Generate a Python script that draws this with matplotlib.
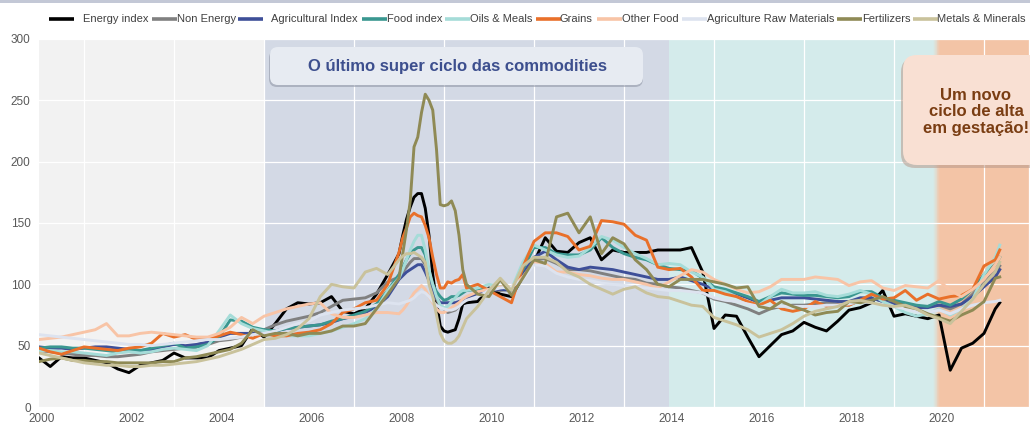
import numpy as np
import matplotlib
matplotlib.use("Agg")
import matplotlib.pyplot as plt
from matplotlib.patches import FancyBboxPatch, Rectangle
from matplotlib.lines import Line2D
from matplotlib.transforms import ScaledTranslation
from matplotlib.colors import to_rgb

plt.rcParams['font.family'] = ['Liberation Sans', 'DejaVu Sans']

# ---------------- data (World Bank commodity price indices, 2010 = 100) ----------------
# time axis: quarterly 2000-2007, monthly Jan 2008 - Jul 2009, quarterly afterwards
dates = np.concatenate([
    2000 + np.arange(32) / 4,
    2008 + np.arange(19) / 12,
    2009.75 + np.arange(47) / 4,
    [2021.35],
])

energy = [40, 33, 41, 40, 40, 38, 36, 31, 28, 34, 36, 38, 44, 40, 40, 40,
          46, 48, 50, 64, 57, 68, 80, 85, 84, 85, 90, 78, 76, 80, 92, 108,
          125, 140, 153, 163, 171, 174, 174, 162, 140, 108, 86, 66,
          62, 61, 62, 63, 72, 84, 85,
          86,
          97, 92, 90, 106, 118, 138, 127, 126, 134, 138, 120, 128,
          126, 126, 126, 128, 128, 128, 130, 110, 64, 75, 74, 57,
          41, 50, 59, 62, 69, 65, 62, 70, 79, 81, 85, 95,
          74, 76, 74, 72, 75, 30, 48, 52, 60, 80,
          85]

non_energy = [46, 45, 44, 43, 42, 42, 41, 41, 42, 43, 45, 46, 47, 48, 49, 51,
              54, 55, 57, 59, 63, 67, 70, 72, 74, 77, 82, 87, 88, 89, 93, 102,
              106, 110, 114, 118, 121, 121, 121, 116, 108, 97, 88, 82,
              80, 77, 78, 79, 82, 86, 88,
              92,
              96, 95, 96, 110, 120, 121, 117, 112, 112, 111, 109, 107,
              105, 104, 101, 100, 98, 97, 95, 93, 88, 86, 83, 80,
              76, 80, 82, 83, 83, 84, 85, 84, 83, 87, 89, 86,
              85, 83, 82, 82, 83, 80, 84, 92, 102, 110,
              115]

agricultural = [49, 48, 48, 47, 48, 49, 49, 48, 47, 46, 47, 49, 51, 50, 51, 53,
                57, 60, 60, 60, 60, 62, 64, 65, 66, 67, 69, 72, 74, 77, 82, 90,
                104, 107, 110, 112, 114, 116, 116, 110, 103, 94, 89, 85,
                85, 85, 85, 85, 86, 87, 88,
                93,
                95, 96, 95, 108, 122, 127, 120, 114, 112, 114, 113, 112,
                110, 108, 106, 104, 104, 106, 103, 100, 96, 94, 92, 89,
                85, 87, 89, 89, 89, 88, 87, 86, 86, 89, 89, 86,
                84, 82, 81, 81, 83, 82, 84, 90, 98, 106,
                112]

food = [48, 49, 49, 48, 48, 47, 46, 45, 47, 46, 48, 50, 52, 48, 49, 51,
        57, 71, 70, 65, 63, 62, 64, 65, 66, 67, 70, 72, 75, 78, 84, 95,
        108, 114, 120, 125, 128, 130, 130, 124, 110, 100, 94, 90,
        87, 88, 90, 90, 91, 93, 95,
        96,
        96, 98, 96, 112, 130, 130, 125, 124, 124, 128, 138, 130,
        125, 122, 120, 116, 113, 112, 111, 105, 98, 96, 93, 90,
        86, 90, 93, 92, 91, 91, 90, 89, 90, 94, 94, 89,
        87, 85, 83, 82, 86, 83, 88, 96, 108, 116,
        122]

oils_meals = [46, 46, 45, 45, 44, 43, 42, 44, 45, 44, 45, 47, 48, 47, 46, 50,
              62, 75, 68, 64, 62, 60, 58, 58, 58, 60, 62, 65, 68, 72, 80, 95,
              105, 112, 120, 128, 135, 140, 140, 128, 112, 100, 90, 83,
              81, 82, 86, 89, 93, 95, 95,
              97,
              100, 98, 96, 118, 132, 128, 124, 122, 123, 130, 139, 136,
              130, 125, 121, 116, 117, 116, 110, 106, 96, 94, 90, 86,
              83, 90, 96, 93, 93, 94, 91, 90, 92, 95, 92, 86,
              82, 77, 74, 76, 80, 75, 80, 88, 108, 122,
              132]

grains = [48, 45, 43, 46, 49, 48, 47, 46, 48, 49, 52, 60, 57, 59, 55, 55,
          58, 61, 59, 56, 60, 58, 58, 60, 61, 63, 68, 77, 80, 85, 87, 100,
          126, 138, 146, 155, 158, 156, 155, 148, 138, 122, 108, 97,
          97, 102, 101, 103, 104, 108, 97,
          100,
          95, 90, 85, 114, 135, 142, 142, 139, 128, 131, 152, 151,
          149, 140, 136, 114, 112, 113, 106, 95, 95, 92, 90, 86,
          83, 87, 80, 78, 80, 86, 82, 83, 83, 87, 92, 88,
          89, 95, 87, 92, 88, 90, 91, 96, 115, 120,
          128]

other_food = [55, 56, 57, 59, 61, 63, 68, 58, 58, 60, 61, 60, 59, 58, 57, 57,
              60, 65, 73, 68, 74, 77, 80, 82, 84, 85, 76, 73, 73, 75, 77, 77,
              76, 79, 83, 88, 93, 96, 99, 96, 90, 85, 80, 77,
              77, 79, 81, 83, 85, 88, 90,
              94,
              96, 98, 98, 106, 118, 117, 110, 110, 108, 107, 105, 104,
              104, 102, 100, 97, 102, 107, 112, 110, 104, 100, 96, 93,
              94, 98, 104, 104, 104, 106, 105, 104, 99, 102, 103, 97,
              95, 99, 98, 97, 103, 95, 90, 96, 104, 116,
              122]

agri_raw = [59, 58, 57, 56, 55, 54, 53, 52, 51, 51, 50, 51, 52, 53, 54, 55,
            55, 56, 57, 59, 60, 62, 65, 68, 70, 75, 77, 79, 80, 81, 83, 85,
            84, 85, 86, 87, 89, 92, 94, 93, 90, 86, 83, 81,
            80, 79, 79, 80, 82, 85, 87,
            90,
            95, 97, 98, 104, 116, 115, 109, 106, 104, 103, 101, 100,
            99, 98, 97, 96, 95, 95, 94, 93, 89, 87, 86, 84,
            82, 82, 82, 82, 82, 82, 83, 83, 84, 86, 85, 83,
            82, 80, 78, 77, 79, 76, 80, 83, 85, 86,
            87]

fertilizers = [37, 39, 40, 38, 38, 37, 37, 36, 36, 36, 36, 37, 37, 40, 41, 43,
               45, 47, 52, 63, 58, 60, 60, 58, 60, 60, 62, 66, 66, 68, 80, 92,
               105, 125, 145, 168, 212, 220, 240, 255, 250, 242, 210, 165,
               164, 165, 168, 160, 140, 112, 100,
               92,
               90, 104, 91, 105, 120, 117, 155, 158, 142, 155, 125, 138,
               133, 120, 112, 100, 98, 104, 104, 104, 102, 100, 97, 98,
               82, 80, 86, 82, 79, 75, 77, 78, 86, 85, 87, 90,
               86, 82, 80, 76, 73, 70, 75, 79, 86, 105,
               106]

metals = [44, 42, 40, 38, 36, 35, 34, 34, 33, 33, 34, 34, 35, 36, 37, 39,
          41, 44, 47, 51, 55, 56, 59, 64, 72, 90, 100, 98, 97, 110, 113, 108,
          120, 123, 125, 125, 126, 124, 122, 118, 100, 90, 75, 60,
          54, 52, 52, 54, 58, 65, 72,
          82,
          95, 105, 95, 115, 122, 122, 118, 110, 106, 100, 96, 92,
          96, 98, 93, 90, 89, 86, 83, 82, 73, 70, 67, 63,
          57, 60, 63, 68, 74, 78, 80, 82, 86, 87, 85, 83,
          82, 83, 80, 75, 72, 68, 78, 88, 100, 110,
          118]

series_names = ["Energy index", "Non Energy", "Agricultural Index", "Food index",
                "Oils & Meals", "Grains", "Other Food", "Agriculture Raw Materials",
                "Fertilizers", "Metals & Minerals"]
series_values = [energy, non_energy, agricultural, food, oils_meals, grains,
                 other_food, agri_raw, fertilizers, metals]
series_colors = ["#000000", "#808080", "#3e4f98", "#3a9790", "#a5dcd8", "#e9702a",
                 "#f8c4a6", "#dde3ef", "#8f8a55", "#c9c29b"]

title_left = "O último super ciclo das commodities"
title_right = "Um novo\nciclo de alta\nem gestação!"
x_ticks = [2000, 2002, 2004, 2006, 2008, 2010, 2012, 2014, 2016, 2018, 2020]
y_ticks = [0, 50, 100, 150, 200, 250, 300]

# ---------------- figure ----------------
W, H = 1030, 426
fig = plt.figure(figsize=(W / 100, H / 100), dpi=100)
fig.patch.set_facecolor("white")
ax = fig.add_axes([39 / W, 19 / H, 990 / W, 368 / H])
ax.set_xlim(2000, 2022)
ax.set_ylim(0, 300)
ax.set_facecolor("white")

# background periods
ax.axvspan(2000, 2005, color="#f2f2f2", zorder=0.1, lw=0)
ax.axvspan(2005, 2014, color="#d3d9e5", zorder=0.1, lw=0)
ax.axvspan(2014, 2019.86, color="#d4ebeb", zorder=0.1, lw=0)
ax.axvspan(2020.03, 2022, color="#f3c4a6", zorder=0.1, lw=0)
c0, c1 = np.array(to_rgb("#d4ebeb")), np.array(to_rgb("#f3c4a6"))
edges = np.linspace(2019.86, 2020.03, 9)
for i in range(8):
    f = (i + 0.5) / 8
    ax.axvspan(edges[i], edges[i + 1], color=tuple(c0 * (1 - f) + c1 * f), zorder=0.1, lw=0)

# grid
ax.set_xticks(np.arange(2000, 2023, 1), minor=True)
ax.grid(True, which="minor", axis="x", color="white", lw=0.9)
ax.grid(True, which="major", axis="y", color="white", lw=0.9)
ax.set_axisbelow(True)
for s in ax.spines.values():
    s.set_visible(False)

for name, vals, col in zip(series_names, series_values, series_colors):
    ax.plot(dates, vals, color=col, lw=2.1, solid_joinstyle="round", zorder=3, label=name)

ax.set_xticks(x_ticks)
ax.set_xticklabels([str(t) for t in x_ticks])
ax.set_yticks(y_ticks)
ax.set_yticklabels([str(t) for t in y_ticks])
ax.tick_params(axis="both", which="both", length=0, labelsize=8.5, colors="#595959")
ax.tick_params(axis="x", pad=4.5)
ax.tick_params(axis="y", pad=6)
for lab in ax.get_xticklabels():
    lab.set_transform(lab.get_transform() + ScaledTranslation(3 / 100, 0, fig.dpi_scale_trans))

# ---------------- overlay in pixel coordinates ----------------
ov = fig.add_axes([0, 0, 1, 1], zorder=10)
ov.set_xlim(0, W)
ov.set_ylim(H, 0)
ov.axis("off")

ov.add_patch(Rectangle((0, 0), W, 2.5, color="#c3c8d6", lw=0))

# manual legend
handle_x = [49, 152, 238, 362, 445, 536, 597, 682, 837, 913]
text_x = [83, 177, 271, 387, 470, 560, 622, 707, 862, 937]
for name, col, hx, tx in zip(series_names, series_colors, handle_x, text_x):
    ov.add_line(Line2D([hx, hx + 25], [19, 19], color=col, lw=2.6, solid_capstyle="butt"))
    ov.text(tx, 19.5, name, fontsize=8, color="#404040", va="center", ha="left")

# annotation box 1
ov.add_patch(FancyBboxPatch((269, 50), 374, 37, boxstyle="round,pad=0,rounding_size=8",
                            fc="#8d93a3", ec="none", alpha=0.55))
ov.add_patch(FancyBboxPatch((270, 47), 373, 38, boxstyle="round,pad=0,rounding_size=8",
                            fc="#e7ebf2", ec="none"))
ov.text(457, 67, title_left, fontsize=12, fontweight="bold", color="#3d4f8e",
        ha="center", va="center")

# annotation box 2
ov.add_patch(FancyBboxPatch((901, 58), 150, 110, boxstyle="round,pad=0,rounding_size=14",
                            fc="#b89a8c", ec="none", alpha=0.55))
ov.add_patch(FancyBboxPatch((903, 55), 150, 110, boxstyle="round,pad=0,rounding_size=14",
                            fc="#f9e0d3", ec="none"))
ov.text(976, 112, title_right, fontsize=12, fontweight="bold", color="#7a3d12",
        ha="center", va="center", linespacing=1.15)

fig.savefig("out.png", dpi=100, facecolor="white")
